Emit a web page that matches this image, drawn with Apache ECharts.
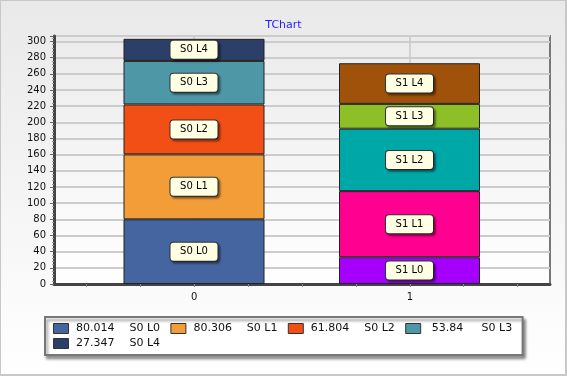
<!DOCTYPE html>
<html>
<head>
<meta charset="utf-8">
<script src="https://cdn.jsdelivr.net/npm/echarts@6/dist/echarts.min.js"></script>
<style>
  html, body { margin: 0; padding: 0; }
  #chart { width: 567px; height: 376px; }
</style>
</head>
<body>
<div id="chart"></div>
<script>
// layers stacked in each bar, bottom to top
const layers = ['L0', 'L1', 'L2', 'L3', 'L4'];
const barCategories = ['0', '1'];
const s0Values = [80.014, 80.306, 61.804, 53.84, 27.347];
const s1Values = [33.1, 81.8, 77.2, 30.7, 50.3];
const s0Colors = ['#4565A1', '#F29D38', '#F24F16', '#4E97A7', '#2B3F69'];
const s1Colors = ['#A500FF', '#FF0090', '#00A7A7', '#8DBF27', '#A0520A'];
const xTickValues = [-0.5, -0.25, 0, 0.25, 0.5, 0.75, 1, 1.25, 1.5];
const xLabelValues = [0, 1];
const yMax = 306.8;

const FONT = 'DejaVu Sans, Verdana, sans-serif';
const chart = echarts.init(document.getElementById('chart'));

const labelBox = {
    show: true,
    position: 'inside',
    formatter: '{b}',
    color: '#000',
    fontFamily: FONT,
    fontSize: 10,
    lineHeight: 12,
    width: 35,
    align: 'center',
    padding: [3, 6],
    backgroundColor: '#FFFFE3',
    borderColor: '#333',
    borderWidth: 1,
    borderRadius: 3,
    shadowColor: 'rgba(0,0,0,0.35)',
    shadowBlur: 2,
    shadowOffsetX: 2,
    shadowOffsetY: 2
};

const series = layers.map((layer, i) => ({
    name: 'S0 ' + layer,
    type: 'bar',
    stack: 'total',
    xAxisIndex: 1,
    yAxisIndex: 1,
    barWidth: 141,
    itemStyle: { color: s0Colors[i], borderColor: '#222', borderWidth: 1 },
    label: labelBox,
    data: [
        { name: 'S0 ' + layer, value: s0Values[i], itemStyle: { color: s0Colors[i] } },
        { name: 'S1 ' + layer, value: s1Values[i], itemStyle: { color: s1Colors[i] } }
    ]
}));

const legendValues = {};
layers.forEach((layer, i) => { legendValues['S0 ' + layer] = s0Values[i]; });

const option = {
    animation: false,
    backgroundColor: new echarts.graphic.LinearGradient(0, 0, 0, 1, [
        { offset: 0, color: '#E9E9E9' },
        { offset: 1, color: '#FFFFFF' }
    ]),
    textStyle: { fontFamily: FONT },
    title: {
        text: 'TChart',
        left: 'center',
        top: 15,
        textStyle: { color: '#2222FF', fontSize: 11, fontWeight: 'normal', fontFamily: FONT }
    },
    graphic: [{
        type: 'rect',
        shape: { x: 0, y: 0, width: 566, height: 375 },
        style: { fill: 'none', stroke: '#C8C8C8', lineWidth: 2 },
        silent: true
    }],
    grid: [{
        // visible frame + axes
        left: 54, right: 17, top: 36, bottom: 92,
        show: true,
        backgroundColor: new echarts.graphic.LinearGradient(0, 0, 0, 1, [
            { offset: 0, color: '#EBEBEB' },
            { offset: 1, color: '#FFFFFF' }
        ]),
        borderColor: '#777',
        borderWidth: 2
    }, {
        // bars: category centres land on x = 0 and x = 1 of the visible axis
        left: 86.25, right: 49.75, top: 36, bottom: 92
    }, {
        // vertical grid lines at x = 0 and x = 1
        left: 194, right: 157.5, top: 36, bottom: 92
    }],
    legend: {
        left: 45,
        top: 317,
        width: 470,
        padding: [5, 2, 5, 8],
        icon: 'rect',
        itemWidth: 15,
        itemHeight: 10,
        itemGap: 2,
        backgroundColor: '#fff',
        borderColor: '#777',
        borderWidth: 2,
        shadowColor: 'rgba(0,0,0,0.4)',
        shadowBlur: 3,
        shadowOffsetX: 2,
        shadowOffsetY: 3,
        itemStyle: { borderColor: '#333', borderWidth: 1 },
        formatter: name => '{v|' + legendValues[name] + '}{n|' + name + '}',
        textStyle: {
            lineHeight: 13,
            rich: {
                v: { width: 43.5, align: 'right', fontSize: 11, lineHeight: 13, color: '#111', fontFamily: FONT },
                n: { width: 47.4, align: 'left', padding: [0, 0, 0, 4], fontSize: 11, lineHeight: 13, color: '#111', fontFamily: FONT }
            }
        },
        data: layers.map(l => 'S0 ' + l)
    },
    xAxis: [{
        gridIndex: 0,
        type: 'value',
        min: -0.65,
        max: 1.65,
        axisLine: { show: true, onZero: false, lineStyle: { color: '#444', width: 3 } },
        axisTick: { show: true, customValues: xTickValues, length: 3, lineStyle: { color: '#888' } },
        axisLabel: { customValues: xLabelValues, color: '#111', fontSize: 10, margin: 8 },
        splitLine: { show: false }
    }, {
        gridIndex: 1,
        type: 'category',
        data: barCategories,
        show: false
    }, {
        gridIndex: 2,
        type: 'value',
        min: 0,
        max: 1,
        interval: 1,
        axisLine: { show: false },
        axisTick: { show: false },
        axisLabel: { show: false },
        splitLine: { show: true, lineStyle: { color: '#C8C8C8', width: 1.5 } }
    }],
    yAxis: [{
        gridIndex: 0,
        type: 'value',
        min: 0,
        max: yMax,
        interval: 20,
        axisLine: { show: true, onZero: false, lineStyle: { color: '#444', width: 3 } },
        axisTick: { show: true, length: 4, lineStyle: { color: '#666' } },
        minorTick: { show: true, splitNumber: 5, length: 2, lineStyle: { color: '#999' } },
        axisLabel: { color: '#111', fontSize: 10, margin: 8, showMaxLabel: false },
        splitLine: { show: true, lineStyle: { color: '#CCCCCC', width: 2 } }
    }, {
        gridIndex: 1,
        type: 'value',
        min: 0,
        max: yMax,
        show: false
    }, {
        gridIndex: 2,
        type: 'value',
        min: 0,
        max: yMax,
        show: false
    }],
    series: series
};

chart.setOption(option);
</script>
</body>
</html>
